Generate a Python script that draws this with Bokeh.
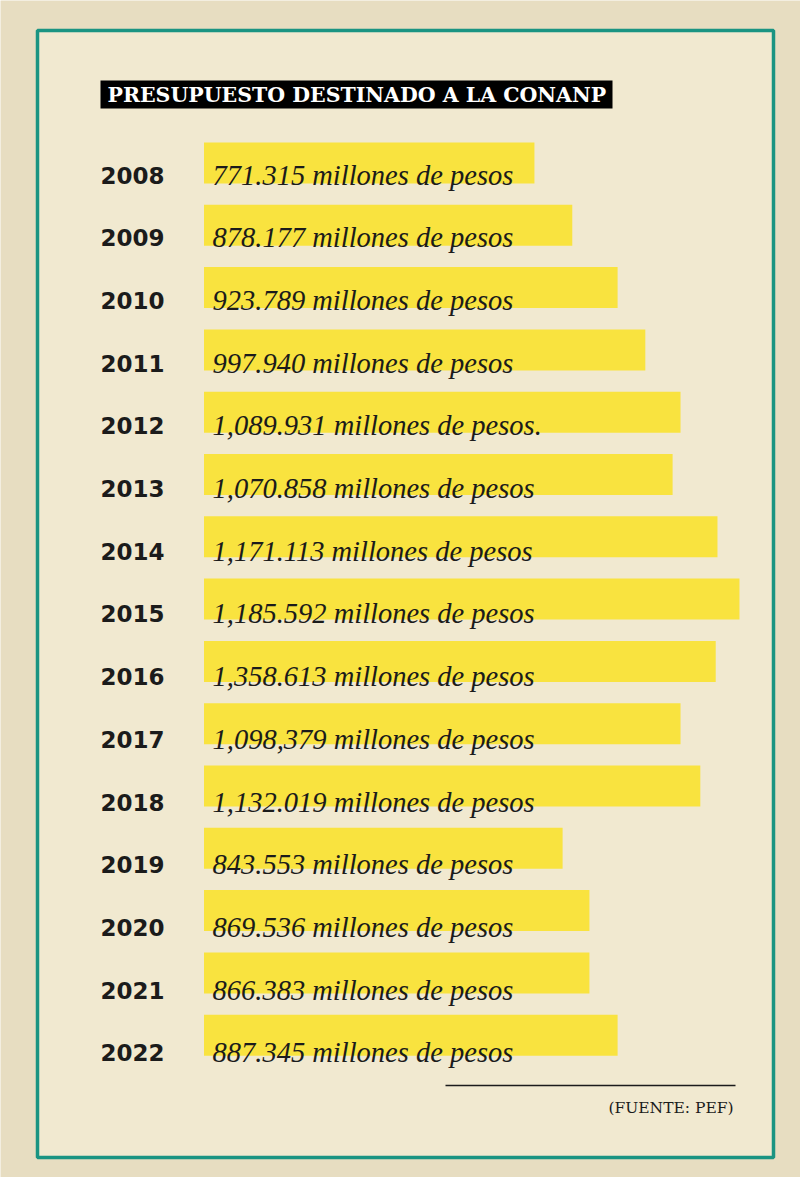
from bokeh.plotting import figure
from bokeh.models import Range1d
from bokeh.core.properties import value
from bokeh.embed import file_html
from bokeh.resources import INLINE

# ---------------- data ----------------
years = ["2008", "2009", "2010", "2011", "2012", "2013", "2014", "2015",
         "2016", "2017", "2018", "2019", "2020", "2021", "2022"]
labels = [
    "771.315 millones de pesos",
    "878.177 millones de pesos",
    "923.789 millones de pesos",
    "997.940 millones de pesos",
    "1,089.931 millones de pesos.",
    "1,070.858 millones de pesos",
    "1,171.113 millones de pesos",
    "1,185.592 millones de pesos",
    "1,358.613 millones de pesos",
    "1,098,379 millones de pesos",
    "1,132.019 millones de pesos",
    "843.553 millones de pesos",
    "869.536 millones de pesos",
    "866.383 millones de pesos",
    "887.345 millones de pesos",
]
# length of each yellow highlight as drawn (millones de pesos scale)
bar_lengths = [751, 837, 940, 1003, 1083, 1065, 1167, 1217, 1163, 1083, 1128, 815, 876, 876, 940]
title = "PRESUPUESTO DESTINADO A LA CONANP"
source_note = "(FUENTE: PEF)"

# ---------------- layout (page pixel coordinates) ----------------
W, H = 800, 1177
BG_OUT = "#e7ddc1"
BG_IN = "#f1e9d0"
TEAL = "#1a9482"
YELLOW = "#f9e33f"
INK = "#1b1b1b"

p = figure(width=W, height=H, output_backend="svg", toolbar_location=None,
           x_range=Range1d(0, W), y_range=Range1d(H, 0),
           x_axis_location=None, y_axis_location=None,
           min_border=0, min_border_left=0, min_border_right=0,
           min_border_top=0, min_border_bottom=0)
p.grid.visible = False
p.outline_line_color = None
p.background_fill_color = BG_OUT
p.border_fill_color = BG_OUT

# data ranges: value scale (x) and row scale (y)
x0_px = 203.5          # where highlights start
px_per_unit = 0.44
p.extra_x_ranges = {"val": Range1d(-x0_px / px_per_unit, (W - x0_px) / px_per_unit)}
text_mid0 = 174.5      # vertical centre of first row's text
row_step = 62.7
p.extra_y_ranges = {"row": Range1d((H - text_mid0) / row_step, -text_mid0 / row_step)}

# frame
p.quad(left=[37], right=[773], top=[30], bottom=[1157],
       fill_color=BG_IN, line_color=TEAL, line_width=3.5)

# title
p.quad(left=[100], right=[612], top=[80], bottom=[108], fill_color="black", line_color=None)
p.text(x=[107], y=[94.5], text=[title], text_color="white",
       text_font=value("DejaVu Serif"), text_font_style="bold",
       text_font_size="20.5px", text_baseline="middle", text_align="left")

rows = list(range(len(years)))
bar_step = 62.3
bar_center = [(162.5 - text_mid0 + bar_step * r) / row_step for r in rows]

p.hbar(y=bar_center, left=0, right=bar_lengths, height=41 / row_step,
       fill_color=YELLOW, line_color=None,
       x_range_name="val", y_range_name="row")

year_x = (100 - x0_px) / px_per_unit
p.text(x=[year_x] * len(years), y=rows, text=years, text_color=INK,
       text_font=value("DejaVu Sans"), text_font_style="bold",
       text_font_size="23px", text_baseline="middle", text_align="left",
       x_range_name="val", y_range_name="row")

label_x = (212 - x0_px) / px_per_unit
p.text(x=[label_x] * len(labels), y=rows, text=labels, text_color=INK,
       text_font=value("Liberation Serif"), text_font_style="italic",
       text_font_size="28.5px", text_baseline="middle", text_align="left",
       x_range_name="val", y_range_name="row")

# source
p.segment(x0=[445], y0=[1085], x1=[735], y1=[1085], line_color=INK, line_width=1.5)
p.text(x=[733], y=[1107], text=[source_note], text_color=INK,
       text_font=value("DejaVu Serif"), text_font_size="15.5px",
       text_baseline="middle", text_align="right")

open("out.html", "w").write(file_html(p, INLINE))
